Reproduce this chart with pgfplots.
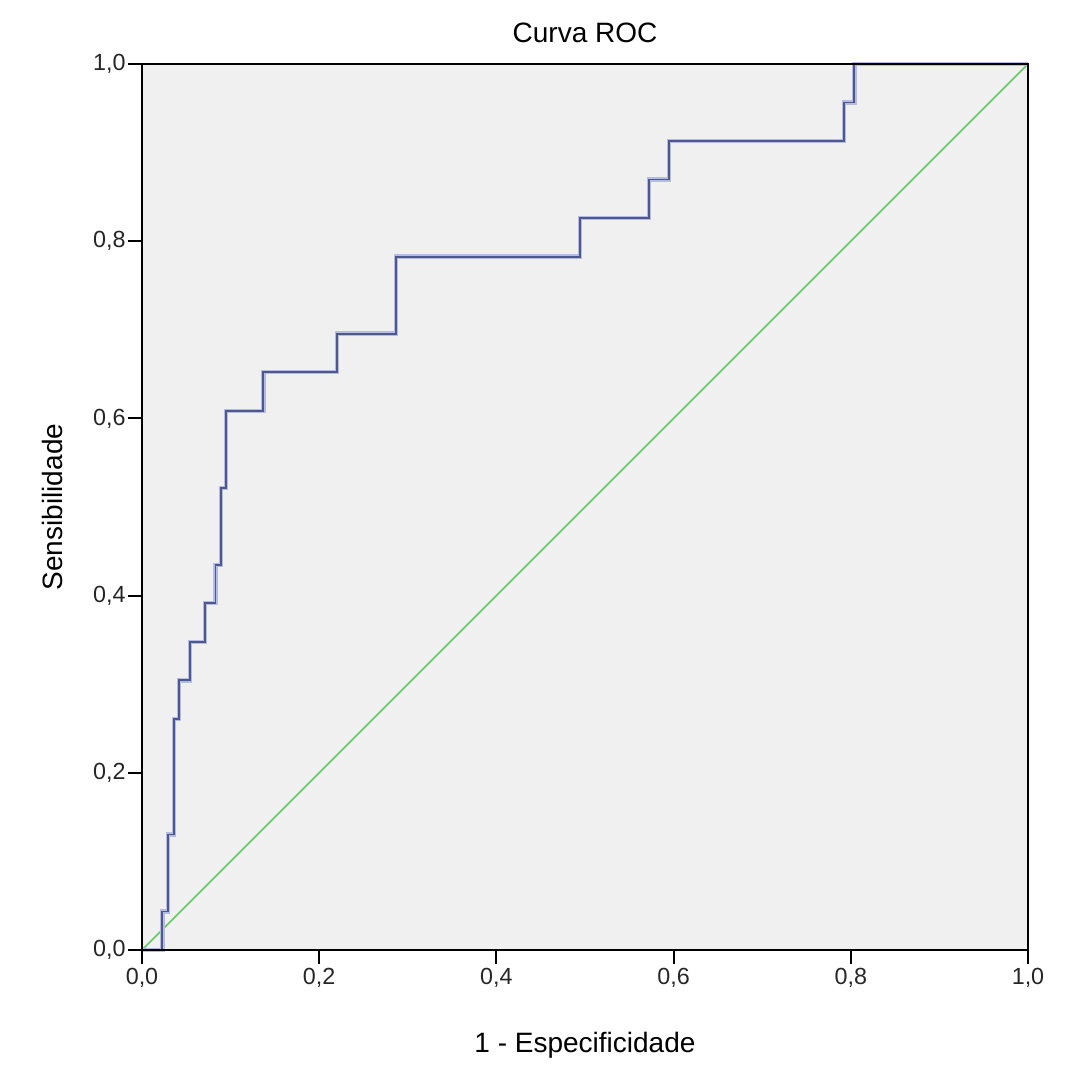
\documentclass[border=0pt]{standalone}
\usepackage{fontspec}
\setmainfont{Liberation Sans}
\usepackage{pgfplots}
\pgfplotsset{compat=1.18}
\definecolor{bgc}{RGB}{240,240,240}
\definecolor{roc}{RGB}{78,88,140}
\definecolor{rochalo}{RGB}{180,188,228}
\definecolor{diag}{RGB}{100,200,100}
\begin{document}
\begin{tikzpicture}
\useasboundingbox (-42.6pt,-39.9pt) rectangle (281.4pt,285.0pt);
\begin{axis}[
  at={(0,0)}, anchor=south west,
  width=265.8pt, height=265.8pt, scale only axis,
  xmin=0, xmax=1, ymin=0, ymax=1,
  axis on top,
  axis background/.style={fill=bgc},
  axis line style={black, line width=0.6pt},
  xtick={0,0.2,0.4,0.6,0.8,1}, ytick={0,0.2,0.4,0.6,0.8,1},
  tick align=outside, xtick pos=bottom, ytick pos=left,
  major tick length=4.2pt,
  tick style={black, line width=0.6pt},
  /pgf/number format/assume math mode=true,
  /pgf/number format/.cd, fixed, fixed zerofill, precision=1, use comma,
  /pgfplots/.cd,
  ticklabel style={font=\fontsize{7}{8}\selectfont, text=black!85},
  yticklabel style={inner sep=0.5pt},
  xticklabel style={inner sep=1pt},
  every axis title shift=0pt,
  title={Curva ROC},
  title style={font=\fontsize{8.4}{10}\selectfont, at={(axis description cs:0.5,1.035)}, anchor=center},
  xlabel={1 - Especificidade},
  xlabel style={font=\fontsize{8.4}{10}\selectfont, at={(axis description cs:0.5,-0.1072)}, anchor=center},
  ylabel={Sensibilidade},
  ylabel style={font=\fontsize{8.4}{10}\selectfont, at={(axis description cs:-0.1005,0.5)}, anchor=center},
  clip=false,
]
\addplot[diag, line width=0.5pt] coordinates {(0,0) (1,1)};
\addplot[const plot, rochalo, line width=1.3pt] coordinates {
(0,0) (0.023,0.0435) (0.029,0.1304) (0.036,0.2609) (0.042,0.3043)
(0.054,0.3478) (0.071,0.3913) (0.083,0.4348) (0.089,0.5217)
(0.095,0.6087) (0.137,0.6522) (0.220,0.6957) (0.287,0.7826)
(0.494,0.8261) (0.572,0.8696) (0.595,0.9130) (0.792,0.9565)
(0.804,1) (1,1)};
\addplot[const plot, roc, line width=0.55pt] coordinates {
(0,0) (0.023,0.0435) (0.029,0.1304) (0.036,0.2609) (0.042,0.3043)
(0.054,0.3478) (0.071,0.3913) (0.083,0.4348) (0.089,0.5217)
(0.095,0.6087) (0.137,0.6522) (0.220,0.6957) (0.287,0.7826)
(0.494,0.8261) (0.572,0.8696) (0.595,0.9130) (0.792,0.9565)
(0.804,1) (1,1)};
\end{axis}
\end{tikzpicture}
\end{document}
